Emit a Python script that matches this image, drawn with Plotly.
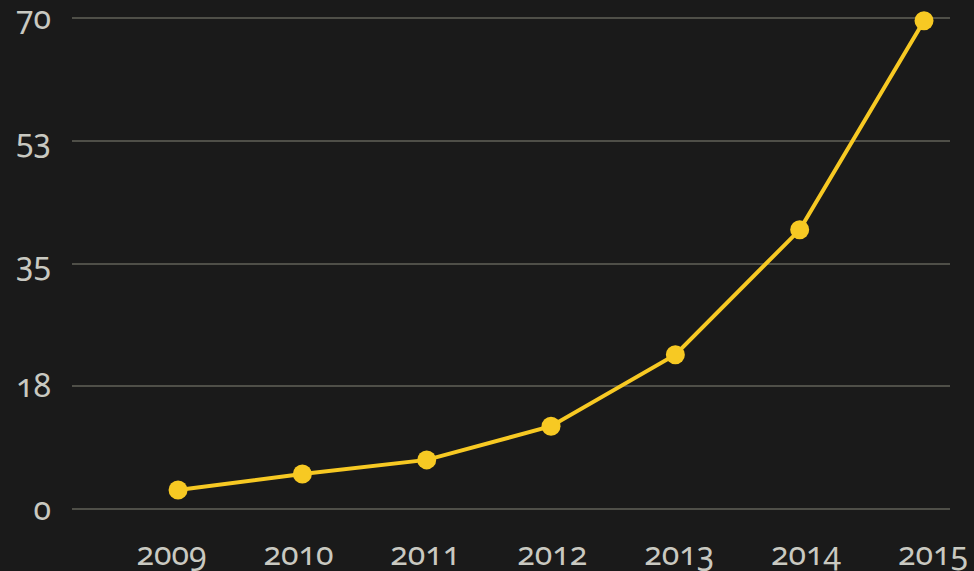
import plotly.graph_objects as go

years = [2009, 2010, 2011, 2012, 2013, 2014, 2015]
values = [2.7, 5.0, 7.0, 11.8, 22.0, 39.8, 69.6]
y_tickvals = [0, 17.5, 35, 52.5, 70]
y_ticktext = ["0", "18", "35", "53", "70"]

bg = "#1a1a1a"
grid = "#4f4f48"
txt = "#c9c9c1"
yellow = "#f7c923"

fig = go.Figure()
fig.add_trace(go.Scatter(
    x=years, y=values, mode="lines+markers",
    line=dict(color=yellow, width=4),
    marker=dict(color=yellow, size=19),
    cliponaxis=False, hoverinfo="x+y",
))
# invisible carrier so the label axis is drawn
fig.add_trace(go.Scatter(
    x=years, y=values, xaxis="x2", mode="markers",
    marker=dict(opacity=0), hoverinfo="skip",
))

# pixel mapping: y 0 -> 509, 70 -> 18 ; plot x from 72 to 950
fig.update_layout(
    width=974, height=571,
    paper_bgcolor=bg, plot_bgcolor=bg,
    margin=dict(l=72, r=24, t=11, b=55),
    showlegend=False,
    font=dict(family="Noto Sans", size=32, color=txt),
    xaxis=dict(
        range=[2008.147, 2015.209], showticklabels=False, automargin=False,
        showgrid=False, zeroline=False, showline=False, ticks="",
    ),
    xaxis2=dict(
        overlaying="x", side="bottom", anchor="y", automargin=False,
        range=[2008.216, 2015.134], tickvals=years, ticktext=[str(y) for y in years],
        showgrid=False, zeroline=False, showline=False, ticks="",
        ticklabelstandoff=16, ticklabeloverflow="allow",
    ),
    yaxis=dict(
        range=[-1, 71], tickvals=y_tickvals, ticktext=y_ticktext, automargin=False,
        showgrid=True, gridcolor=grid, gridwidth=2, zeroline=False,
        showline=False, ticks="", ticklabelstandoff=20, ticklabeloverflow="allow",
    ),
)

post = """
var st = document.createElement('style');
st.textContent = '.xtick text, .x2tick text, .ytick text { font-variant-numeric: oldstyle-nums; font-feature-settings: "onum" 1; }';
document.head.appendChild(st);
"""

fig.write_html("out.html", post_script=post)
